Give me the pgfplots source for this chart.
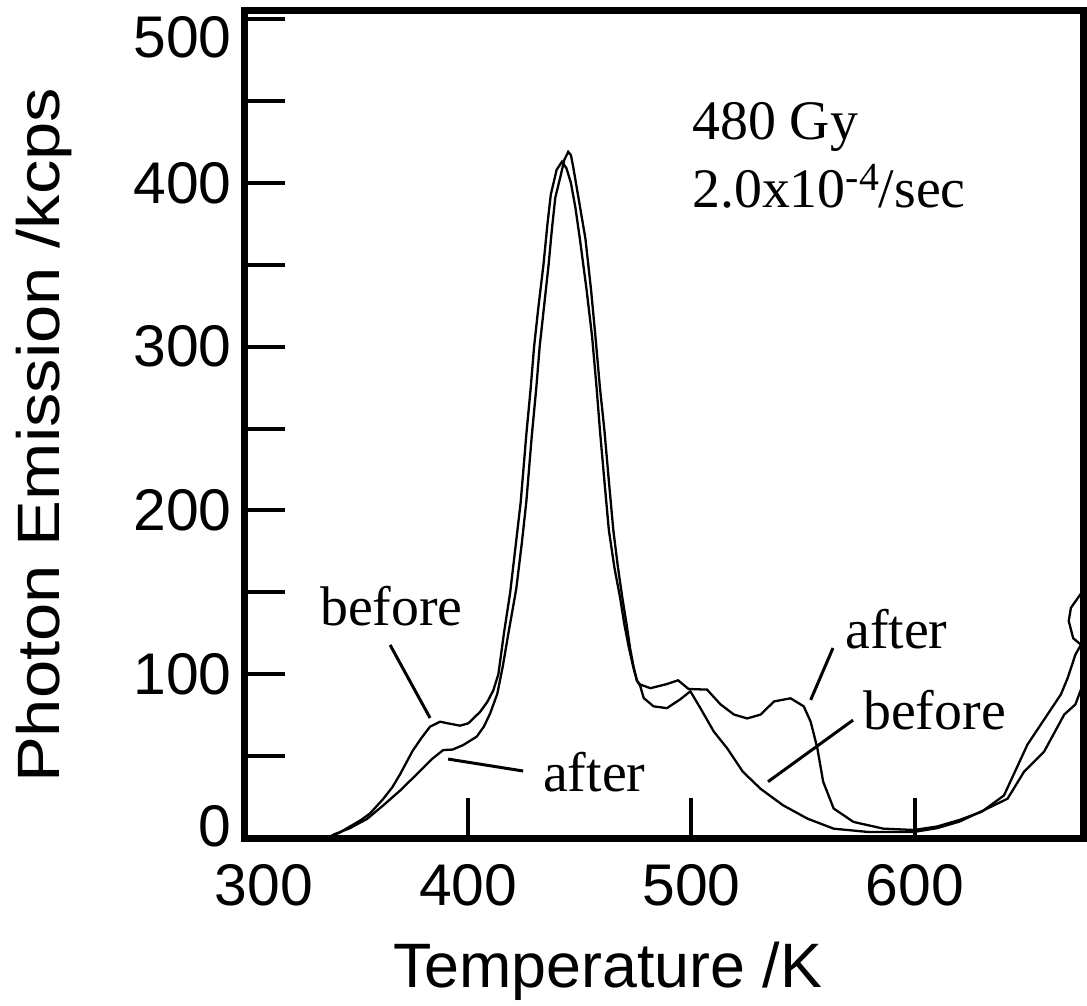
\documentclass[border=0pt]{standalone}
\usepackage{fontspec}
\usepackage{graphicx}
\setmainfont{Liberation Serif}
\newfontfamily\arial{Liberation Sans}
\usepackage{pgfplots}
\pgfplotsset{compat=1.18}
\begin{document}
\begin{tikzpicture}
\begin{axis}[
  at={(0,0)}, anchor=south west,
  scale only axis, width=838bp, height=827bp,
  xmin=300, xmax=675.4, ymin=0, ymax=505,
  axis line style={line width=7bp},
  tick align=inside, tick pos=left,
  major tick length=40bp,
  tick style={line width=4bp, black},
  xtick={300,400,500,600},
  xticklabels={\hspace*{38bp}300,400,500,600},
  ytick={0,50,...,500},
  yticklabels={\raisebox{12bp}[\height][\depth]{0},,100,,200,,300,,400,,\raisebox{-18bp}[\height][\depth]{500}},
  ticklabel style={font=\arial\fontsize{59}{59}\selectfont},
  xticklabel style={yshift=-23bp},
  yticklabel style={xshift=-10bp},
  xlabel={Temperature /K},
  xlabel style={font=\arial\fontsize{63}{63}\selectfont, at={(axis description cs:0.433,-0.1804)}, anchor=base},
  ylabel={\scalebox{1.15}[1]{Photon Emission /kcps}},
  ylabel style={font=\arial\fontsize{60}{60}\selectfont, at={(axis description cs:-0.221,0.487)}, anchor=base},
]
% before
\addplot[black, line width=2.3bp] coordinates {
(336,0) (342,3) (347,7) (352,11) (356,15) (362,24) (366,31) (369.5,39) (375,53) (379,61) (382.9,68) (387.4,71) (391,70) (396.3,68.6) (400,70) (405.3,77) (408.5,83) (411.2,90) (413.5,100) (416,125) (418.8,150) (421.2,178) (423.5,205) (426,246) (428,275) (429.5,300) (431.5,325) (433.7,350) (435.5,375) (437,393) (439.6,408) (442,413) (444,409) (446,400) (448,385) (450,366) (453,335) (455.5,306) (457.5,275) (459,249) (461,218) (463,188) (465.5,165) (468,147) (470,130) (472,116) (474,104) (475.6,96) (477,93) (478.6,85.5) (483,80.4) (489,79.3) (495,84.7) (499.5,89.6) (504,79.3) (510,65) (516,54.8) (523,40.5) (531,30) (541,20) (552,11.8) (563.7,5.7) (579,3.7) (599.6,3.7) (610,6) (620,10) (631,17) (641.6,24) (649,40.5) (658,52.8) (667,75.4) (672,81.6) (675.4,94)
};
% after
\addplot[black, line width=2.3bp] coordinates {
(339.5,2) (347,6) (354.7,11.7) (362,20) (369.5,29) (377,39) (384,48.5) (388.8,53.7) (393,54) (397.8,56.8) (403.8,61.9) (407,68) (409.8,76) (413,88) (415.5,105) (418,125) (421.5,152) (424,180) (426,205) (428.5,246) (430.5,275) (432,300) (434,325) (436,350) (437.5,372) (439,391) (441.5,405) (443,414) (444.8,419) (446,417) (447,410) (449.5,390) (452.5,366) (455,335) (457,306) (459,275) (461,249) (463,218) (465,188) (467,166) (469,147) (471,130) (472.5,116) (474,105) (475.6,96) (477,93.7) (481.6,91.5) (489,94) (494,96.3) (498.7,91) (507,90.6) (513,81.6) (519,75.4) (525,73) (531,75.4) (537,83.4) (544.4,85.3) (550.3,80.4) (553.4,71) (556.4,54.8) (559,34.4) (563.7,18) (572.6,9.8) (586,5.7) (599.6,4.9) (610,7) (620,11) (630,16) (640,26) (650.5,57) (659.5,75.4) (665.5,87.7) (668.5,97.6) (672,112) (674.5,118) (671,122) (669,132.5) (670,140.6) (675.4,151)
};
\draw[line width=3bp] (axis cs:365,117.9) -- (axis cs:382.9,73.3);
\draw[line width=3bp] (axis cs:391,48.2) -- (axis cs:424.6,40.9);
\draw[line width=3bp] (axis cs:563.4,116) -- (axis cs:553.4,84.3);
\draw[line width=3bp] (axis cs:572.4,72) -- (axis cs:534.3,34.4);
\node[anchor=base west, inner sep=0, font=\fontsize{56}{56}\selectfont] at (axis cs:500.3,426.3) {480 Gy};
\node[anchor=base west, inner sep=0, font=\fontsize{56}{56}\selectfont] at (axis cs:500.3,384.7) {2.0x10\raisebox{17bp}{\fontsize{40}{40}\selectfont -4}/sec};
\node[anchor=base west, inner sep=0, font=\fontsize{56}{56}\selectfont] at (axis cs:333.6,130) {before};
\node[anchor=base west, inner sep=0, font=\fontsize{56}{56}\selectfont] at (axis cs:433.5,28.2) {after};
\node[anchor=base west, inner sep=0, font=\fontsize{56}{56}\selectfont] at (axis cs:568.8,116) {after};
\node[anchor=base west, inner sep=0, font=\fontsize{56}{56}\selectfont] at (axis cs:576.9,66) {before};
\end{axis}
\pgfresetboundingbox
\path (-245bp,-168bp) rectangle (842bp,838bp);
\end{tikzpicture}
\end{document}
